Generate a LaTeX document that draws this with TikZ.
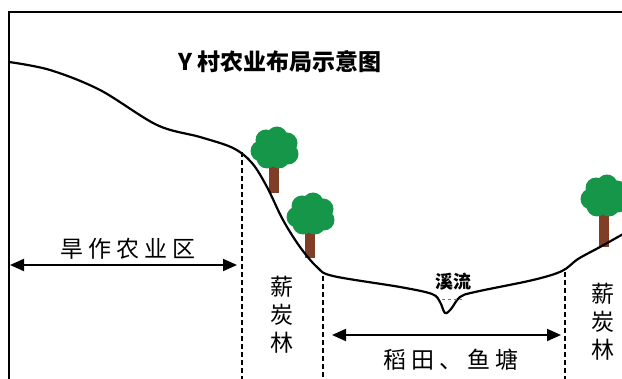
\documentclass[tikz,border=0pt]{standalone}
\usepackage{fontspec}
\newfontfamily\cjk{Noto Sans CJK SC}
\usepackage{tikz}
\usetikzlibrary{arrows.meta,positioning}

\definecolor{leaf}{RGB}{22,150,72}
\definecolor{bark}{RGB}{128,62,38}
\definecolor{water}{RGB}{80,110,220}

% a tree: crown centre at (#1,#2)
\newcommand{\bushtree}[3]{%
  \fill[bark] (#1-5,#2+14) rectangle (#1+5,#2+#3);
  \foreach \dx/\dy in {-13/2,-8/-9,3/-12,13/-6,14/5,5/9,-7/9,0/0}
    \fill[leaf] (#1+\dx,#2+\dy) circle (10.5);
}

\begin{document}
\begin{tikzpicture}[x=1pt,y=-1pt,>={Triangle[length=14pt,width=12pt]},
   every node/.style={font=\cjk\fontsize{23}{28}\selectfont},
   span/.style={<->,line width=2pt},
   border/.style={dashed,dash pattern=on 5pt off 3pt,line width=1.1pt}]
  \useasboundingbox (0,0) rectangle (622,379);
  \clip (0,0) rectangle (622,379);

  % frame
  \draw[line width=2pt] (9,379) -- (9,12) -- (630,12);

  \node (title) at (280,62) {\bfseries\fontsize{23}{26}\selectfont Y 村农业布局示意图};

  % trees on the slopes
  \bushtree{274}{149}{44}
  \bushtree{310}{215}{43}
  \bushtree{604}{197}{50}

  % ground profile
  \draw[line width=2.2pt,line join=round] plot[smooth,tension=0.55] coordinates {
    (9,62) (50,70) (100,90) (157,125) (200,137) (233,148) (252,163)
    (267,187) (283,220) (300,247) (317,267) (333,276) (400,287)
    (432,294) (440,302) (445,313) (451,309) (460,297) (475,292)
    (533,280) (562,271) (578,259) (600,247) (625,233)};

  % zone limits
  \coordinate (b1) at (242,152);
  \coordinate (b2) at (323,276);
  \coordinate (b3) at (565,272);
  \foreach \b in {b1,b2,b3}
    \draw[border] (\b) -- (\b |- 0,380);

  % stream
  \draw[water,dashed,line width=0.8pt] (442,299) -- (462,299);
  \node (stream) at (453,282) {\bfseries\fontsize{18}{20}\selectfont 溪流};

  % dry farming
  \coordinate (d1) at (10,265);
  \coordinate (d2) at (237,265);
  \draw[span] (d1) -- (d2);
  \node (dry) at (128,249) {旱 作 农 业 区};

  % paddy fields and fish ponds
  \coordinate (p1) at (332,335);
  \coordinate (p2) at (561,335);
  \draw[span] (p1) -- (p2);
  \node (paddy) at (451,360) {稻 田 、 鱼 塘};

  % fuelwood forest
  \node[align=center] (forestL) at (282,315) {薪\\炭\\林};
  \node[align=center] (forestR) at (603,322) {薪\\炭\\林};
\end{tikzpicture}
\end{document}
